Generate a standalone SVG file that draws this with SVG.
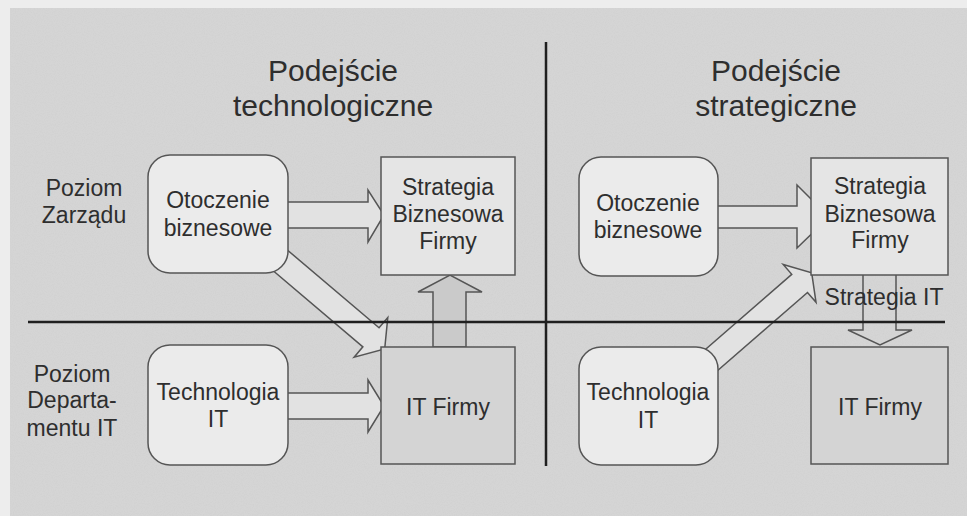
<svg xmlns="http://www.w3.org/2000/svg" width="967" height="516" viewBox="0 0 967 516">
<defs>
<filter id="noise" x="0" y="0" width="100%" height="100%">
<feTurbulence type="fractalNoise" baseFrequency="0.9" numOctaves="2" seed="3" result="n"/>
<feColorMatrix type="matrix" values="0 0 0 0 0.5  0 0 0 0 0.5  0 0 0 0 0.5  0 0 0 0.9 -0.35" in="n" result="g"/>
<feComposite in="g" in2="SourceGraphic" operator="in"/>
</filter>
<style>
.t{font-family:"Liberation Sans",Arial,sans-serif;fill:#2e2e2e;font-size:23px;text-anchor:middle}
.title{font-size:30px}
.rbox{fill:#ebebeb;stroke:#555;stroke-width:1.5}
.sbox{fill:#e5e5e5;stroke:#555;stroke-width:1.5}
.ibox{fill:#d4d4d4;stroke:#555;stroke-width:1.5}
.arr{fill:#e2e2e2;stroke:#555;stroke-width:1.5;stroke-linejoin:miter}
.div{stroke:#1f1f1f;stroke-width:2.5;fill:none}
</style>
</defs>
<rect x="0" y="0" width="967" height="516" fill="#ededed"/>
<rect x="10" y="8" width="957" height="508" fill="#d5d5d5"/>
<rect x="10" y="8" width="957" height="508" fill="#d5d5d5" filter="url(#noise)" opacity="0.35"/>

<g id="connectors">
<polygon class="arr" points="270,202 368,202 368,190 384,215 368,242 368,228 270,228"/>
<polygon class="arr" points="270,393 368,393 368,380 384,406 368,432 368,419 270,419"/>
<polygon class="arr" transform="translate(268,250) rotate(40.3)" points="0,-12.5 135,-12.5 135,-26 153,0 135,26 135,12.5 0,12.5"/>
<polygon points="433,347 433,292 418,292 450,275 482,292 466,292 466,347" fill="#cacaca" stroke="#555" stroke-width="1.5"/>
<polygon class="arr" points="700,206 797,206 797,185 829,217 797,248 797,228 700,228"/>
<polygon class="arr" transform="translate(700,370) rotate(-41)" points="0,-12 132,-12 132,-25 148,0 132,25 132,12 0,12"/>
<polygon points="863,270 863,330 848,330 880,345 912,330 896,330 896,270" fill="none" stroke="#555" stroke-width="1.5"/>
</g>

<g id="n-otoczenie-1"><rect class="rbox" x="148" y="155" width="140" height="118" rx="22"/>
<text class="t" x="218" y="208">Otoczenie</text><text class="t" x="218" y="236">biznesowe</text></g>
<g id="n-strategia-1"><rect class="sbox" x="381" y="157" width="134" height="118"/>
<text class="t" x="448" y="195">Strategia</text><text class="t" x="448" y="222">Biznesowa</text><text class="t" x="448" y="249">Firmy</text></g>
<g id="n-technologia-1"><rect class="rbox" x="148" y="345" width="140" height="120" rx="22"/>
<text class="t" x="218" y="400">Technologia</text><text class="t" x="218" y="427">IT</text></g>
<g id="n-itfirmy-1"><rect class="ibox" x="381" y="347" width="134" height="117"/>
<text class="t" x="448" y="415">IT Firmy</text></g>

<g id="n-otoczenie-2"><rect class="rbox" x="579" y="157" width="139" height="119" rx="22"/>
<text class="t" x="648" y="211">Otoczenie</text><text class="t" x="648" y="238">biznesowe</text></g>
<g id="n-strategia-2"><rect class="sbox" x="811" y="158" width="137" height="117"/>
<text class="t" x="880" y="194">Strategia</text><text class="t" x="880" y="222">Biznesowa</text><text class="t" x="880" y="248">Firmy</text></g>
<g id="n-technologia-2"><rect class="rbox" x="579" y="347" width="139" height="118" rx="22"/>
<text class="t" x="648" y="400">Technologia</text><text class="t" x="648" y="428">IT</text></g>
<g id="n-itfirmy-2"><rect class="ibox" x="811" y="347" width="137" height="117"/>
<text class="t" x="880" y="415">IT Firmy</text></g>

<g id="dividers">
<line class="div" x1="28" y1="322" x2="945" y2="322"/>
<line class="div" x1="546" y1="42" x2="546" y2="466"/>
</g>

<g id="labels">
<text class="t title" x="333" y="81">Podejście</text>
<text class="t title" x="333" y="116">technologiczne</text>
<text class="t title" x="776" y="81">Podejście</text>
<text class="t title" x="776" y="116">strategiczne</text>
<text class="t" x="84" y="196">Poziom</text>
<text class="t" x="84" y="223">Zarządu</text>
<text class="t" x="72" y="382">Poziom</text>
<text class="t" x="72" y="408">Departa-</text>
<text class="t" x="72" y="436">mentu IT</text>
<text class="t" x="884" y="305">Strategia IT</text>
</g>
</svg>
